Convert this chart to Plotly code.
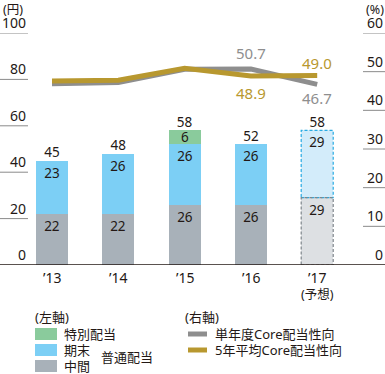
import plotly.graph_objects as go

# ---- data ----
years = ["’13", "’14", "’15", "’16", "’17"]
interim = [22, 22, 26, 26, 29]          # 中間
year_end = [23, 26, 26, 26, 29]         # 期末
special = [None, None, 6, None, None]   # 特別配当
totals = [45, 48, 58, 52, 58]
payout_single = [46.9, 47.2, 50.6, 50.7, 46.7]   # 単年度Core配当性向
payout_5yr = [47.6, 47.8, 50.9, 48.9, 49.0]      # 5年平均Core配当性向
left_ticks = [0, 20, 40, 60, 80, 100]
right_ticks = [0, 10, 20, 30, 40, 50, 60]
forecast_idx = 4

W, H = 385, 374
T, B = 33, 109
PH = H - T - B
FONT = "Noto Sans, Noto Sans CJK JP, sans-serif"
TXT = "#231815"
GRAY_BAR, BLUE_BAR, GREEN_BAR = "#a8b1b9", "#7ccff5", "#8acb9c"
GRAY_FC, BLUE_FC = "#dde0e3", "#d3ecfa"
GRAY_LINE, GOLD_LINE = "#8e8e8e", "#b8982f"
BW = 0.483

def pxp(p):  # pixel x -> paper
    return p / W

def pyp(p):  # pixel y -> paper
    return (H - B - p) / PH

xs = list(range(len(years)))
VF = dict(size=13.5, color=TXT, family=FONT)

fig = go.Figure()
fig.add_bar(x=xs, y=interim, width=BW,
            marker=dict(color=[GRAY_FC if i == forecast_idx else GRAY_BAR for i in xs], line=dict(width=0)),
            text=[str(v) for v in interim], textposition="inside", insidetextanchor="end",
            textangle=0, constraintext="none", textfont=VF, hoverinfo="skip")
fig.add_bar(x=xs, y=year_end, width=BW,
            marker=dict(color=[BLUE_FC if i == forecast_idx else BLUE_BAR for i in xs], line=dict(width=0)),
            text=[str(v) for v in year_end], textposition="inside", insidetextanchor="end",
            textangle=0, constraintext="none", textfont=VF, hoverinfo="skip")
fig.add_bar(x=xs, y=special, width=BW, marker=dict(color=GREEN_BAR, line=dict(width=0)),
            text=["" if v is None else str(v) for v in special], textposition="inside",
            insidetextanchor="middle", textangle=0, constraintext="none",
            textfont=VF, hoverinfo="skip")
fig.add_scatter(x=xs, y=totals, mode="text", text=[str(v) for v in totals],
                textposition="top center", textfont=VF, hoverinfo="skip")
fig.add_scatter(x=xs, y=payout_single, yaxis="y2", mode="lines",
                line=dict(color=GRAY_LINE, width=5), hoverinfo="skip")
fig.add_scatter(x=xs, y=payout_5yr, yaxis="y2", mode="lines",
                line=dict(color=GOLD_LINE, width=5), hoverinfo="skip")

shapes = []
ann = []

# dashed outlines for forecast bar
fi = forecast_idx
shapes.append(dict(type="rect", xref="x", yref="y", x0=fi - BW / 2, x1=fi + BW / 2,
                   y0=interim[fi], y1=interim[fi] + year_end[fi],
                   line=dict(color="#29abe2", width=1.2, dash="3px,2px")))
shapes.append(dict(type="rect", xref="x", yref="y", x0=fi - BW / 2, x1=fi + BW / 2,
                   y0=0, y1=interim[fi], line=dict(color="#7f868c", width=1.2, dash="3px,2px")))

# baseline
shapes.append(dict(type="line", xref="paper", yref="y", x0=0, x1=1, y0=0, y1=0,
                   line=dict(color=TXT, width=1.5)))

TF = dict(size=14, color=TXT, family=FONT)
# left ticks
for v in left_ticks:
    ann.append(dict(xref="paper", yref="y", x=pxp(28), y=v, xanchor="right", yanchor="bottom",
                    text=str(v), showarrow=False, yshift=-1, font=TF))
    if v > 0:
        shapes.append(dict(type="line", xref="paper", yref="y", x0=0, x1=pxp(28), y0=v, y1=v,
                           line=dict(color="#8a8a8a", width=1)))
# right ticks
for v in right_ticks:
    ann.append(dict(xref="paper", yref="y2", x=pxp(385), y=v, xanchor="right", yanchor="bottom",
                    text=str(v), showarrow=False, yshift=-1, font=TF))
    if v > 0:
        shapes.append(dict(type="line", xref="paper", yref="y2", x0=pxp(363), x1=1, y0=v, y1=v,
                           line=dict(color="#8a8a8a", width=1)))

ann.append(dict(xref="paper", yref="paper", x=pxp(1), y=pyp(9), xanchor="left", yanchor="middle",
                text="(円)", showarrow=False, font=dict(size=12.5, color=TXT, family=FONT)))
ann.append(dict(xref="paper", yref="paper", x=pxp(386), y=pyp(9), xanchor="right", yanchor="middle",
                text="(%)", showarrow=False, font=dict(size=12.5, color=TXT, family=FONT)))

# x labels
for i, lab in enumerate(years):
    ann.append(dict(xref="x", yref="paper", x=i, y=pyp(277), xanchor="center", yanchor="middle",
                    text=lab, showarrow=False, font=TF))
ann.append(dict(xref="x", yref="paper", x=forecast_idx, y=pyp(294), xanchor="center", yanchor="middle",
                text="(予想)", showarrow=False, font=dict(size=12.5, color=TXT, family=FONT)))

# line value labels
def lab(i, val, color, shift):
    ann.append(dict(xref="x", yref="y2", x=i, y=val, text=f"{val:.1f}", showarrow=False,
                    yshift=shift, font=dict(size=15, color=color, family=FONT)))
lab(3, payout_single[3], GRAY_LINE, 16)
lab(4, payout_single[4], GRAY_LINE, -14)
lab(4, payout_5yr[4], GOLD_LINE, 13)
lab(3, payout_5yr[3], GOLD_LINE, -17)

# legend
LF = dict(size=13, color=TXT, family=FONT)
ann.append(dict(xref="paper", yref="paper", x=pxp(33), y=pyp(317), xanchor="left", yanchor="middle",
                text="(左軸)", showarrow=False, font=LF))
ann.append(dict(xref="paper", yref="paper", x=pxp(183), y=pyp(317), xanchor="left", yanchor="middle",
                text="(右軸)", showarrow=False, font=LF))
for (c, t, yc) in [(GREEN_BAR, "特別配当", 334), (BLUE_BAR, "期末", 350), (GRAY_BAR, "中間", 366)]:
    shapes.append(dict(type="rect", xref="paper", yref="paper", x0=pxp(35), x1=pxp(57),
                       y0=pyp(yc - 6), y1=pyp(yc + 6), line=dict(width=0), fillcolor=c))
    ann.append(dict(xref="paper", yref="paper", x=pxp(62), y=pyp(yc), xanchor="left", yanchor="middle",
                    text=t, showarrow=False, font=LF))
ann.append(dict(xref="paper", yref="paper", x=pxp(99), y=pyp(357), xanchor="left", yanchor="middle",
                text="普通配当", showarrow=False, font=LF))
for (c, t, yc) in [(GRAY_LINE, "単年度Core配当性向", 334), (GOLD_LINE, "5年平均Core配当性向", 350)]:
    shapes.append(dict(type="line", xref="paper", yref="paper", x0=pxp(188), x1=pxp(207),
                       y0=pyp(yc), y1=pyp(yc), line=dict(color=c, width=5)))
    ann.append(dict(xref="paper", yref="paper", x=pxp(213), y=pyp(yc), xanchor="left", yanchor="middle",
                    text=t, showarrow=False, font=LF))

x0 = -52 / 66.3
fig.update_layout(
    width=W, height=H, margin=dict(l=0, r=0, t=T, b=B, pad=0),
    paper_bgcolor="white", plot_bgcolor="white", barmode="stack", bargap=0,
    showlegend=False,
    xaxis=dict(range=[x0, x0 + W / 66.3], visible=False, fixedrange=True),
    yaxis=dict(range=[0, 100], visible=False, fixedrange=True),
    yaxis2=dict(range=[0, 60], visible=False, overlaying="y", fixedrange=True),
    shapes=shapes, annotations=ann, font=dict(family=FONT, color=TXT),
)
fig.write_html("out.html", config={"displayModeBar": False},
               post_script="document.body.style.margin='0';document.body.style.overflow='hidden';")
